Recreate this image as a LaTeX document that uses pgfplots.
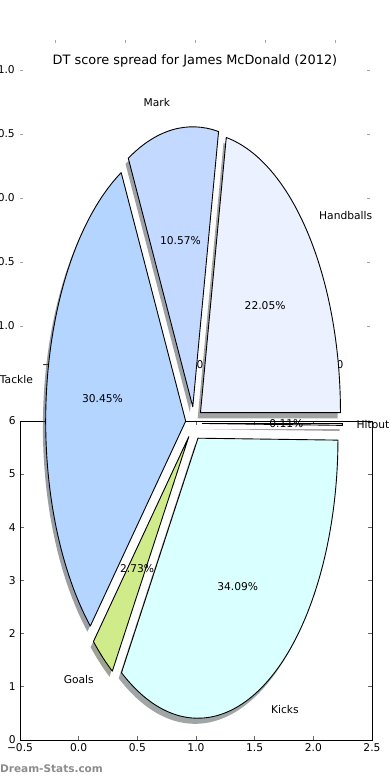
\documentclass[border=0pt]{standalone}
\usepackage{fontspec}
\setmainfont{DejaVu Sans}
\usepackage{pgfplots}
\pgfplotsset{compat=1.18}
\definecolor{hbc}{RGB}{235,241,255}
\definecolor{mkc}{RGB}{196,217,255}
\definecolor{tkc}{RGB}{180,213,255}
\definecolor{glc}{RGB}{208,235,138}
\definecolor{kkc}{RGB}{217,255,255}
\definecolor{hoc}{RGB}{242,242,242}
\newcommand\lbl{\fontsize{10.7pt}{12.5pt}\selectfont}
\newcommand\ttl{\fontsize{12.9pt}{15pt}\selectfont}
% wedge: #1 start angle, #2 end angle, #3 colour
\newcommand\piewedge[3]{%
  \pgfmathsetmacro\pmid{(#1+#2)/2}%
  \pgfmathsetmacro\px{0.06*cos(\pmid)}%
  \pgfmathsetmacro\py{0.06*sin(\pmid)}%
  \edef\tmp{%
    \noexpand\fill[#3!30!black, fill opacity=0.5] ([shift={(-2.8pt,-5.6pt)}]axis cs:\px,\py) -- ++(#1:140pt and 280pt) arc[start angle=#1, end angle=#2, x radius=140pt, y radius=280pt] -- cycle;
    \noexpand\filldraw[fill=#3, draw=black, line width=0.9pt, line join=round] (axis cs:\px,\py) -- ++(#1:140pt and 280pt) arc[start angle=#1, end angle=#2, x radius=140pt, y radius=280pt] -- cycle;
  }\tmp}
% texts: #1 start, #2 end, #3 label, #4 percent text
\newcommand\pietext[4]{%
  \pgfmathsetmacro\pmid{(#1+#2)/2}%
  \pgfmathsetmacro\lx{1.16*cos(\pmid)}%
  \pgfmathsetmacro\ly{1.16*sin(\pmid)}%
  \pgfmathsetmacro\tx{0.66*cos(\pmid)}%
  \pgfmathsetmacro\ty{0.66*sin(\pmid)}%
  \ifdim\lx pt>0pt \def\anc{west}\else\def\anc{east}\fi
  \edef\tmp{%
    \noexpand\node[anchor=\anc, font=\noexpand\lbl, inner sep=0pt] at (axis cs:\lx,\ly) {\unexpanded{#3}};
    \noexpand\node[font=\noexpand\lbl, inner sep=0pt] at (axis cs:\tx,\ty) {\unexpanded{#4}};
  }\tmp}
\begin{document}
\begin{tikzpicture}[x=1pt,y=1pt]
\useasboundingbox (0,0) rectangle (390,780);
% shares (per cent)
\def\vA{22.05}% Handballs
\def\vB{10.57}% Mark
\def\vC{30.45}% Tackle
\def\vD{2.73}%  Goals
\def\vE{34.09}% Kicks
\def\vF{0.11}%  Hitout
\pgfmathsetmacro\aA{0}
\pgfmathsetmacro\aB{\aA+3.6*\vA}
\pgfmathsetmacro\aC{\aB+3.6*\vB}
\pgfmathsetmacro\aD{\aC+3.6*\vC}
\pgfmathsetmacro\aE{\aD+3.6*\vD}
\pgfmathsetmacro\aF{\aE+3.6*\vE}
\pgfmathsetmacro\aG{\aF+3.6*\vF}
% ghost axis of the pie
\begin{axis}[at={(20pt,424pt)}, anchor=south west, scale only axis,
  width=350pt, height=316pt, clip=false,
  xmin=-1.25, xmax=1.25, ymin=-1.234, ymax=1.234,
  axis line style={draw=none},
  xtick={-1,-0.5,0,0.5,1}, ytick={-1,-0.5,0,0.5,1},
  xticklabels={−1.0,−0.5,0.0,0.5,1.0},
  yticklabels={−1.0,−0.5,0.0,0.5,1.0},
  tick align=inside, major tick length=3pt,
  tick style={color=black!35, line width=0.9pt},
  ticklabel style={font=\lbl, inner sep=0pt},
  xticklabel style={yshift=-4pt},
  yticklabel style={xshift=-5pt},
]
\end{axis}
% bottom axis
\begin{axis}[at={(20pt,40pt)}, anchor=south west, scale only axis,
  width=352pt, height=319pt, clip=false,
  xmin=-0.5, xmax=2.5, ymin=0, ymax=6,
  xtick={-0.5,0,0.5,1,1.5,2,2.5},
  xticklabels={−0.5,0.0,0.5,1.0,1.5,2.0,2.5},
  ytick={0,1,2,3,4,5,6},
  yticklabels={0,1,2,3,4,5,6},
  tick align=inside, major tick length=4pt,
  axis line style={line width=0.9pt, black},
  tick style={color=black!60, line width=0.9pt},
  ticklabel style={font=\lbl, inner sep=0pt},
  xticklabel style={yshift=-3.5pt},
  yticklabel style={xshift=-4pt},
]
\end{axis}
% pie
\begin{axis}[at={(0pt,0pt)}, anchor=south west, scale only axis,
  width=390pt, height=780pt, hide axis, clip=false,
  xmin=-1.385714, xmax=1.4, ymin=-1.273571, ymax=1.512143]
\piewedge{\aA}{\aB}{hbc}
\piewedge{\aB}{\aC}{mkc}
\piewedge{\aC}{\aD}{tkc}
\piewedge{\aD}{\aE}{glc}
\piewedge{\aE}{\aF}{kkc}
\piewedge{\aF}{\aG}{hoc}
\pietext{\aA}{\aB}{Handballs}{22.05\%}
\pietext{\aB}{\aC}{Mark}{10.57\%}
\pietext{\aC}{\aD}{Tackle}{30.45\%}
\pietext{\aD}{\aE}{Goals}{2.73\%}
\pietext{\aE}{\aF}{Kicks}{34.09\%}
\pietext{\aF}{\aG}{Hitout}{0.11\%}
\node[font=\ttl, inner sep=0pt] at (axis cs:0.007,1.2943) {DT score spread for James McDonald (2012)};
\end{axis}
\node[anchor=west, inner sep=0pt, font=\fontsize{10.5pt}{12pt}\selectfont\bfseries, text=black!45] at (0,11) {Dream-Stats.com};
\end{tikzpicture}
\end{document}
